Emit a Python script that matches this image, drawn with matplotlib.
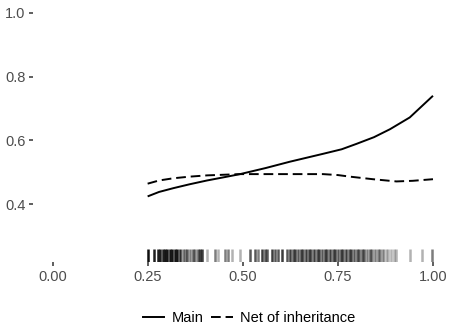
import matplotlib
matplotlib.use("Agg")
import matplotlib.pyplot as plt
from matplotlib.lines import Line2D

plt.rcParams['font.family'] = ['Liberation Sans', 'DejaVu Sans']

# Data
main_x = [0.25, 0.28, 0.318, 0.36, 0.406, 0.45, 0.493, 0.56, 0.624, 0.712, 0.76, 0.799, 0.845, 0.887, 0.939, 1.0]
main_y = [0.424, 0.438, 0.450, 0.462, 0.474, 0.484, 0.494, 0.513, 0.533, 0.558, 0.572, 0.589, 0.610, 0.635, 0.672, 0.740]

net_x = [0.25, 0.28, 0.318, 0.36, 0.406, 0.493, 0.624, 0.711, 0.75, 0.782, 0.842, 0.904, 0.947, 1.0]
net_y = [0.464, 0.474, 0.481, 0.486, 0.490, 0.494, 0.494, 0.494, 0.491, 0.486, 0.478, 0.471, 0.473, 0.478]

rug_x = [0.250, 0.268, 0.278, 0.283, 0.290, 0.296, 0.302, 0.310, 0.315, 0.323, 0.328,
         0.336, 0.344, 0.349, 0.354, 0.362, 0.370, 0.375, 0.383, 0.388, 0.394, 0.407,
         0.428, 0.435, 0.454, 0.462, 0.472, 0.493, 0.520, 0.533, 0.540, 0.551, 0.559,
         0.564, 0.577, 0.585, 0.593, 0.603, 0.616,
         0.624, 0.631, 0.638, 0.645, 0.652, 0.659, 0.666, 0.673, 0.680, 0.687, 0.694,
         0.701, 0.708, 0.715, 0.722, 0.729, 0.736, 0.743, 0.750, 0.757, 0.764, 0.771,
         0.778, 0.785, 0.792, 0.799, 0.806, 0.813, 0.820, 0.827, 0.834, 0.841, 0.848,
         0.855, 0.862, 0.869, 0.876, 0.883, 0.890, 0.897, 0.904, 0.939, 0.970, 0.998]
rug_n = [8, 6, 6, 6, 6, 7, 7, 7, 7, 7, 7,
         5, 2, 2, 3, 2, 3, 2, 3, 4, 4, 1,
         2, 1, 2, 2, 1, 1, 3, 3, 2, 4, 3,
         3, 4, 3, 3, 4, 3,
         4, 3, 4, 3, 4, 3, 4, 4, 3, 4, 3,
         4, 3, 4, 3, 4, 3, 4, 3, 4, 3, 4,
         3, 4, 3, 3, 3, 3, 3, 2, 3, 2, 2,
         2, 2, 2, 1, 1, 1, 1, 1, 1, 1, 2]

xticks = [0.00, 0.25, 0.50, 0.75, 1.00]
xtick_labels = ["0.00", "0.25", "0.50", "0.75", "1.00"]
yticks = [0.4, 0.6, 0.8, 1.0]
ytick_labels = ["0.4", "0.6", "0.8", "1.0"]

fig = plt.figure(figsize=(4.6, 3.36), dpi=100)
ax = fig.add_axes([33.5/460, 74/336, (452-33.5)/460, (334.8-74)/336])

ax.plot(main_x, main_y, color='black', lw=1.4, solid_capstyle='butt')
ax.plot(net_x, net_y, color='black', lw=1.4, dashes=(5, 2.5))

trans = ax.get_xaxis_transform()
for xv, n in zip(rug_x, rug_n):
    a = 1 - (1 - 0.3) ** n
    ax.plot([xv, xv], [0, 0.048], transform=trans, color='black', alpha=a, lw=1.8,
            solid_capstyle='butt')

ax.set_xlim(-0.05, 1.05)
ax.set_ylim(0.218, 1.037)
ax.set_xticks(xticks)
ax.set_xticklabels(xtick_labels)
ax.set_yticks(yticks)
ax.set_yticklabels(ytick_labels)
for s in ax.spines.values():
    s.set_visible(False)
ax.tick_params(axis='both', length=3.2, width=1.1, color='#333333',
               labelsize=10.5, labelcolor='#4D4D4D', pad=2.5)

handles = [Line2D([], [], color='black', lw=1.4),
           Line2D([], [], color='black', lw=1.4, dashes=(5, 2.5))]
fig.legend(handles, ["Main", "Net of inheritance"], loc='center',
           bbox_to_anchor=(249/460, 1 - 318/336), ncol=2, frameon=False,
           fontsize=10.5, handlelength=1.5, handletextpad=0.5, columnspacing=0.5)

fig.savefig("out.png", dpi=100)
